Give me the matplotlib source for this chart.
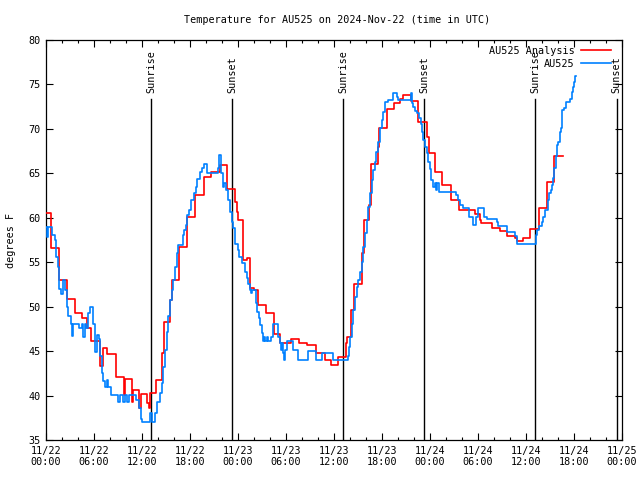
import matplotlib
matplotlib.use("Agg")
import matplotlib.pyplot as plt
import matplotlib.transforms as mtransforms
from matplotlib.ticker import FixedLocator, MultipleLocator

# hours since 2024-11-22 00:00 UTC
red_t = [0.0, 0.61, 1.67, 2.63, 3.64, 4.55, 5.15, 5.66, 6.77, 7.07, 7.68, 8.79, 9.70, 9.90,
         10.71, 10.91, 11.67, 11.92, 12.63, 12.88, 13.03, 13.74, 14.54, 14.75, 15.55, 15.71,
         16.67, 17.57, 18.58, 19.70, 20.60, 21.72, 22.67, 23.63, 23.84, 24.04, 24.64, 25.15,
         25.55, 25.96, 26.56, 27.47, 28.48, 29.19, 30.60, 31.66, 32.62, 33.73, 34.85, 35.65,
         36.56, 37.47, 37.67, 38.08, 38.48, 39.54, 39.69, 40.40, 40.60, 41.51, 41.66, 42.62,
         43.53, 44.24, 44.64, 45.65, 46.56, 47.57, 47.87, 48.58, 49.49, 50.60, 51.66, 53.63,
         54.24, 54.39, 55.75, 56.76, 57.67, 58.58, 58.83, 59.59, 60.50, 61.61, 62.62, 63.53,
         64.64]
red_v = [60.5, 56.6, 53.0, 50.9, 49.3, 48.7, 47.6, 46.1, 43.3, 45.3, 44.7, 42.05, 40.1, 41.9,
         39.3, 40.6, 38.6, 40.2, 39.2, 38.6, 40.25, 41.75, 44.8, 48.3, 50.75, 53.0,
         56.75, 60.1, 62.6, 64.55, 65.2, 65.9, 63.2, 61.8, 60.7, 59.75, 55.25, 55.5,
         52.1, 51.9, 50.2, 49.3, 46.9, 45.9, 46.4, 45.9, 45.7, 44.75, 44.0, 43.4,
         44.3, 45.9, 46.6, 49.6, 52.6, 56.0, 59.7, 61.4, 66.05, 68.0, 70.1, 72.2,
         72.9, 73.4, 73.8, 73.1, 70.8, 69.1, 67.3, 65.2, 63.7, 62.0, 60.9, 60.4,
         59.75, 59.4, 58.8, 58.55, 57.95, 57.7, 57.4, 57.7, 58.7, 61.05, 64.0, 66.9,
         66.9]

blue_t = [0.0, 0.1, 0.25, 0.81, 1.11, 1.31, 1.52, 1.67, 1.92, 2.07, 2.37, 2.58, 2.78, 3.08,
          3.23, 3.43, 4.14, 4.44, 4.65, 4.85, 5.05, 5.25, 5.50, 5.91, 6.11, 6.36, 6.57, 6.77,
          6.97, 7.17, 7.37, 7.58, 7.78, 8.08, 9.04, 9.24, 9.65, 9.90, 10.15, 10.40, 11.31,
          11.67, 11.87, 12.02, 13.03, 13.23, 13.64, 13.84, 14.24, 14.44, 14.65, 14.85, 15.10,
          15.30, 15.50, 15.71, 15.91, 16.11, 16.36, 16.56, 17.07, 17.27, 17.47, 17.68, 17.93,
          18.18, 18.48, 18.74, 18.89, 19.19, 19.49, 19.70, 20.10, 21.51, 21.66, 21.82, 22.12,
          22.27, 22.52, 22.78, 22.98, 23.23, 23.43, 23.63, 23.94, 24.14, 24.44, 24.85, 25.15,
          25.25, 25.45, 25.60, 25.76, 26.26, 26.41, 26.61, 26.77, 26.97, 27.17, 27.27, 27.42,
          27.57, 27.72, 28.08, 28.33, 28.99, 29.19, 29.34, 29.44, 29.59, 29.74, 29.90, 30.10,
          30.91, 31.51, 32.77, 33.73, 34.44, 35.91, 37.77, 37.88, 37.98, 38.23, 38.38, 38.63,
          38.83, 39.04, 39.29, 39.44, 39.64, 39.90, 40.10, 40.30, 40.50, 40.70, 40.91, 41.11,
          41.31, 41.56, 41.76, 41.97, 42.17, 42.37, 42.77, 43.43, 43.83, 44.04, 45.65, 45.75,
          45.90, 46.11, 46.41, 46.66, 46.86, 46.97, 47.17, 47.37, 47.57, 47.77, 47.98, 48.18,
          48.43, 48.63, 48.73, 48.88, 49.09, 51.31, 51.51, 51.71, 52.17, 52.82, 53.43, 53.73,
          54.04, 54.79, 55.10, 56.40, 56.56, 57.67, 58.63, 58.83, 61.26, 61.41, 61.66, 61.96,
          62.17, 62.42, 62.77, 62.92, 63.07, 63.23, 63.43, 63.53, 63.73, 63.83, 64.03, 64.19,
          64.34, 64.49, 64.74, 65.00, 65.50, 65.70, 65.85, 66.01, 66.16, 66.26]
blue_v = [59.0, 57.8, 59.0, 58.1, 57.5, 55.6, 54.5, 52.0, 51.4, 53.0, 51.9, 50.0, 48.9, 48.05,
          46.7, 48.05, 47.6, 48.05, 46.6, 48.1, 47.6, 49.25, 50.0, 48.1, 44.95, 46.8, 46.4, 44.4,
          42.5, 41.6, 41.0, 41.75, 41.0, 40.1, 39.3, 40.1, 39.3, 40.1, 39.3, 40.1, 39.5,
          38.6, 37.4, 37.05, 38.0, 37.0, 38.0, 39.3, 40.25, 41.4, 43.25, 45.1, 47.2,
          48.9, 50.75, 51.9, 53.0, 54.5, 56.0, 56.9, 58.1, 58.6, 59.2, 60.3, 60.9,
          62.0, 62.75, 63.5, 64.4, 65.1, 65.55, 66.0, 65.0, 65.55, 67.05, 65.0, 63.5,
          63.9, 63.1, 62.0, 60.7, 59.55, 58.8, 57.1, 56.4, 55.6, 54.9, 53.9, 53.2,
          52.6, 51.9, 51.5, 51.9, 50.4, 49.4, 48.7, 47.9, 47.0, 46.1, 46.6, 46.1,
          46.6, 46.1, 46.6, 48.05, 46.6, 45.9, 45.1, 45.9, 44.75, 44.0, 45.1, 46.1,
          45.1, 44.0, 45.05, 44.0, 44.75, 44.0, 44.4, 45.5, 46.6, 48.1, 49.6, 51.1,
          52.25, 53.0, 53.9, 55.05, 56.75, 58.25, 59.75, 61.25, 62.75, 64.25, 65.4, 66.3,
          67.4, 68.55, 70.05, 71.0, 71.9, 73.05, 73.2, 74.0, 73.6, 73.2, 74.0, 72.9,
          72.5, 72.05, 71.75, 71.2, 70.6, 69.7, 68.75, 68.0, 67.25, 66.3, 65.5, 64.3,
          63.5, 63.9, 63.1, 63.9, 62.9, 62.55, 62.0, 61.4, 61.05, 60.1, 59.2, 60.1,
          61.05, 60.1, 59.9, 59.55, 59.1, 58.45, 57.9, 57.05, 58.05, 58.6, 59.1, 59.55,
          60.1, 60.9, 62.0, 62.75, 63.1, 63.7, 64.45, 65.55, 66.9, 68.2, 68.55, 69.7,
          70.05, 72.1, 72.3, 73.05, 73.4, 74.2, 74.75, 75.3, 75.95, 75.95]

sun_t = [13.17, 23.29, 37.17, 47.29, 61.17, 71.33]
sun_lbl = ["Sunrise", "Sunset", "Sunrise", "Sunset", "Sunrise", "Sunset"]

xtick_pos = [0, 6, 12, 18, 24, 30, 36, 42, 48, 54, 60, 66, 72]
xtick_lbl = ["11/22\n00:00", "11/22\n06:00", "11/22\n12:00", "11/22\n18:00",
             "11/23\n00:00", "11/23\n06:00", "11/23\n12:00", "11/23\n18:00",
             "11/24\n00:00", "11/24\n06:00", "11/24\n12:00", "11/24\n18:00",
             "11/25\n00:00"]
ytick_pos = [35, 40, 45, 50, 55, 60, 65, 70, 75, 80]

plt.rcParams['font.family'] = ['DejaVu Sans Mono']
FS = 7.3

fig = plt.figure(figsize=(6.4, 4.8), dpi=100)
ax = fig.add_axes([46/640, 40/480, 576/640, 400/480])
ax.set_xlim(0, 72)
ax.set_ylim(35, 80)

trans = mtransforms.blended_transform_factory(ax.transData, ax.transAxes)
for t, lbl in zip(sun_t, sun_lbl):
    ax.axvline(t, ymin=0, ymax=(440 - 99) / 400, color='black', lw=1.0, zorder=1)
    ax.text(t, (440 - 93) / 400, lbl, rotation=90, ha='center', va='bottom',
            fontsize=FS, transform=trans, zorder=1)

ax.plot(red_t, red_v, drawstyle='steps-post', color='#ff0000', lw=1.2,
        label='AU525 Analysis', zorder=3)
ax.plot(blue_t, blue_v, drawstyle='steps-post', color='#0080ff', lw=1.2,
        label='AU525', zorder=3)

ax.xaxis.set_major_locator(FixedLocator(xtick_pos))
ax.set_xticklabels(xtick_lbl)
ax.xaxis.set_minor_locator(MultipleLocator(2))
ax.yaxis.set_major_locator(FixedLocator(ytick_pos))
ax.tick_params(axis='both', which='major', direction='in', length=5, width=0.8,
               top=True, right=True, labelsize=FS, pad=4)
ax.tick_params(axis='x', which='minor', direction='in', length=2.5, width=0.8,
               top=True, bottom=True)
for s in ax.spines.values():
    s.set_linewidth(0.9)

ax.set_ylabel('degrees F', fontsize=FS, labelpad=9)
fig.text(337/640, 1 - 20/480, 'Temperature for AU525 on 2024-Nov-22 (time in UTC)',
         ha='center', va='center', fontsize=FS)

leg = ax.legend(loc='upper right', frameon=False, markerfirst=False, fontsize=FS,
                handlelength=3.0, handletextpad=0.6, borderaxespad=0.0,
                borderpad=0.0, labelspacing=0.25,
                bbox_to_anchor=((611 - 46) / 576, (440 - 46) / 400))
leg.set_zorder(5)

fig.savefig('out.png', dpi=100)
